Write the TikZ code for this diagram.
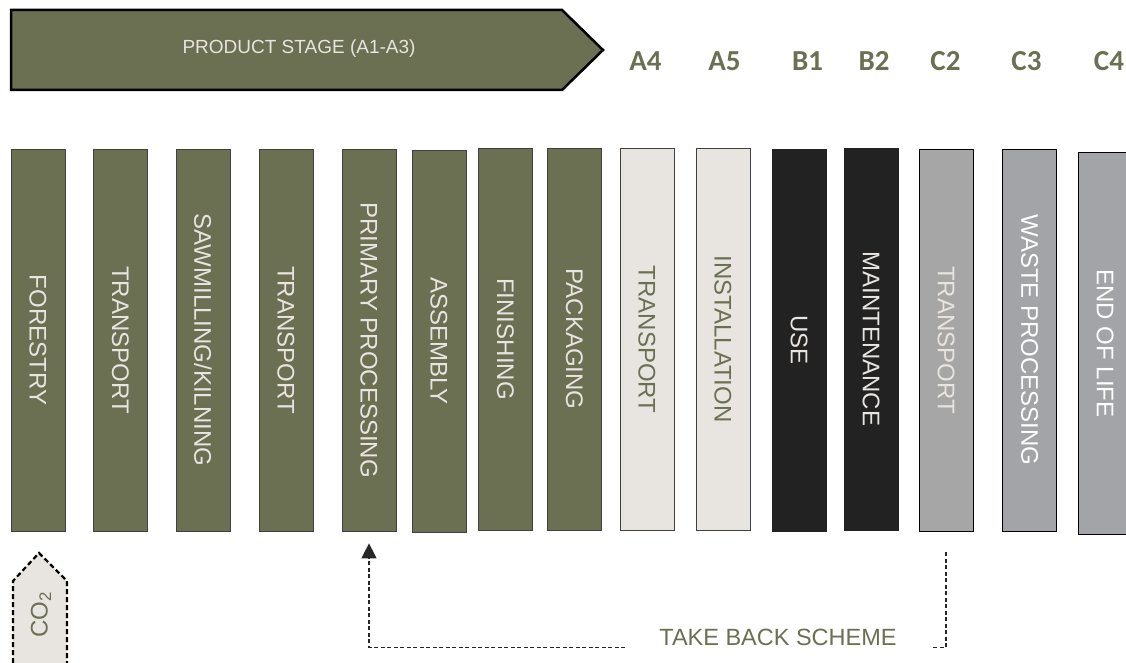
\documentclass[tikz,border=0pt]{standalone}
\usepackage{fontspec}
\setmainfont{Liberation Sans}
\newfontfamily\modulefont{Carlito}
\usepackage{tikz}
\usetikzlibrary{calc,arrows.meta}

\definecolor{woodgreen}{RGB}{107,112,83}
\definecolor{paper}{RGB}{232,228,224}
\definecolor{charcoal}{RGB}{34,34,34}
\definecolor{stonegrey}{RGB}{166,166,166}
\definecolor{ashgrey}{RGB}{163,164,168}

\begin{document}
\begin{tikzpicture}[x=1pt, y=-1pt,
    bar/.style={draw=black!75, line width=0.8pt, minimum width=54pt, minimum height=382pt,
        inner sep=0pt, font=\fontsize{24}{28}\selectfont},
    greenbar/.style={bar, fill=woodgreen, text=paper},
    lightbar/.style={bar, fill=paper, text=woodgreen},
    darkbar/.style={bar, fill=charcoal, draw=charcoal, text=paper},
    greybar/.style={bar, draw=black, text=paper},
    module/.style={text=woodgreen, font=\modulefont\bfseries\fontsize{29}{32}\selectfont},
    takeback/.style={draw=black!85, line width=1.5pt, dash pattern=on 4pt off 2.5pt}]
    \useasboundingbox (0,0) rectangle (1126,663);

    % Product stage arrow (A1-A3)
    \draw[line width=2.5pt, fill=woodgreen] (11,10) -- (562,10) -- (603,50) -- (562,90) -- (11,90) -- cycle;
    \node[text=paper, font=\fontsize{19}{22}\selectfont] (stage) at (299,49) {PRODUCT STAGE (A1-A3)};

    % Module labels
    \node[module] (a4) at (645.5,61) {A4};
    \node[module] (a5) at (724.5,61) {A5};
    \node[module] (b1) at (807.5,61) {B1};
    \node[module] (b2) at (874,61) {B2};
    \node[module] (c2) at (945.5,61) {C2};
    \node[module] (c3) at (1026.5,61) {C3};
    \node[module] (c4) at (1109,61) {C4};

    % Product stage bars
    \node[greenbar] (fore) at (38,340) {\rotatebox{-90}{FORESTRY}};
    \node[greenbar] (tr1) at (120.5,340) {\rotatebox{-90}{TRANSPORT}};
    \node[greenbar] (saw) at (203,340) {\rotatebox{-90}{SAWMILLING/KILNING}};
    \node[greenbar] (tr2) at (286,340) {\rotatebox{-90}{TRANSPORT}};
    \node[greenbar] (prim) at (369,340) {\rotatebox{-90}{PRIMARY PROCESSING}};
    \node[greenbar] (assy) at (439,341) {\rotatebox{-90}{ASSEMBLY}};
    \node[greenbar] (fini) at (505.5,339) {\rotatebox{-90}{FINISHING}};
    \node[greenbar] (pack) at (574.5,339) {\rotatebox{-90}{PACKAGING}};

    % Construction and use stage bars
    \node[lightbar] (tr3) at (647,339.5) {\rotatebox{-90}{TRANSPORT}};
    \node[lightbar] (inst) at (723,339) {\rotatebox{-90}{INSTALLATION}};
    \node[darkbar] (use) at (799,340) {\rotatebox{-90}{USE}};
    \node[darkbar] (main) at (871,339) {\rotatebox{-90}{MAINTENANCE}};

    % End of life stage bars
    \node[greybar, fill=stonegrey] (tr4) at (946,340) {\rotatebox{-90}{TRANSPORT}};
    \node[greybar, fill=ashgrey, text=white] (waste) at (1029.5,340) {\rotatebox{-90}{WASTE PROCESSING}};
    \node[greybar, fill=ashgrey, text=white] (eol) at (1105,343.5) {\rotatebox{-90}{END OF LIFE}};

    % CO2 uptake
    \draw[line width=2.2pt, dash pattern=on 5pt off 3pt, fill=paper]
        (13,663) -- (13,581) -- (39,553) -- (67,581) -- (67,663);
    \node[text=woodgreen, font=\fontsize{24}{26}\selectfont] (co2) at (41,615) {\rotatebox{90}{CO\textsubscript{2}}};

    % Take back scheme
    \draw[takeback, -{Triangle[width=15pt,length=15pt]}]
        ($(tr4.south)+(0,21)$) -- ++(0,95) -| ($(prim.south)+(0,12)$);
    \node[fill=white, text=woodgreen, inner xsep=34pt, inner ysep=4pt,
        font=\fontsize{23.5}{28}\selectfont] (scheme) at (778,637) {TAKE BACK SCHEME};
\end{tikzpicture}
\end{document}
